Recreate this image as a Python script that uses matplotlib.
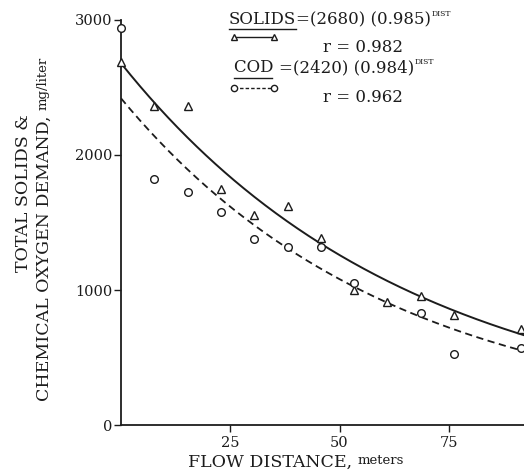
import numpy as np
import matplotlib.pyplot as plt

# sampling stations, 25 ft apart, given in meters
dist_solids = [0, 7.62, 15.24, 22.86, 30.48, 38.1, 45.72, 53.34, 60.96, 68.58, 76.2, 91.44]
solids = [2690, 2360, 2360, 1745, 1555, 1625, 1385, 1000, 911, 958, 815, 711]

dist_cod = [0, 7.62, 15.24, 22.86, 30.48, 38.1, 45.72, 53.34, 68.58, 76.2, 91.44]
cod = [2940, 1822, 1726, 1578, 1378, 1319, 1319, 1052, 830, 526, 570]

# fitted curves: value = a * b**DIST
solids_a, solids_b, solids_r = 2680, 0.985, 0.982
cod_a, cod_b, cod_r = 2420, 0.984, 0.962

W, H = 524, 473
INK = '#1c1c1c'
plt.rcParams['font.family'] = 'DejaVu Serif'


def fx(px):
    return px / W


def fy(py):
    return 1 - py / H


fig = plt.figure(figsize=(W / 100, H / 100), dpi=100)
ax = fig.add_axes([fx(121), fy(425), fx(W - 121), (425 - 20) / H])

xmax = 92.2
xfit = np.linspace(0, xmax, 300)
ax.plot(xfit, solids_a * solids_b ** xfit, color=INK, lw=1.4)
ax.plot(xfit, cod_a * cod_b ** xfit, color=INK, lw=1.3, ls=(0, (4, 2.5)))
ax.plot(dist_solids, solids, ls='none', marker='^', mfc='white', mec=INK,
        ms=6, mew=1, clip_on=False, zorder=3)
ax.plot(dist_cod, cod, ls='none', marker='o', mfc='white', mec=INK,
        ms=5.5, mew=1, clip_on=False, zorder=3)

ax.set_xlim(0, xmax)
ax.set_ylim(0, 3000)
for s in ('top', 'right'):
    ax.spines[s].set_visible(False)
for s in ('left', 'bottom'):
    ax.spines[s].set_color(INK)
    ax.spines[s].set_linewidth(1.3)
ax.set_xticks([25, 50, 75])
ax.set_yticks([0, 1000, 2000, 3000])
ax.tick_params(axis='both', colors=INK, labelsize=10.5, length=5, width=1)
ax.tick_params(axis='y', pad=1)
ax.tick_params(axis='x', pad=3)

# axis labels with small unit text
fs_lab = 12.5
fs_unit = 9.5
tx = fig.text(fx(188), fy(462), 'FLOW DISTANCE,', fontsize=fs_lab, color=INK,
              ha='left', va='center')
fig.canvas.draw()
ax.annotate('meters', xy=(1, 0), xycoords=tx, xytext=(4, 2.5),
            textcoords='offset points', fontsize=fs_unit, color=INK,
            ha='left', va='bottom')

ty1 = fig.text(fx(24), fy(193), 'TOTAL SOLIDS &', fontsize=fs_lab, color=INK,
               rotation=90, ha='center', va='center')
ty2 = fig.text(fx(44), fy(258), 'CHEMICAL OXYGEN DEMAND,', fontsize=fs_lab,
               color=INK, rotation=90, ha='center', va='center')
ax.annotate('mg/liter', xy=(1, 1), xycoords=ty2, xytext=(-2.5, 4),
            textcoords='offset points', fontsize=fs_unit, color=INK,
            rotation=90, ha='right', va='bottom')

# equation block
fs_eq = 12


def equation(x, y, name, a, b):
    t_name = fig.text(fx(x), fy(y), name, fontsize=fs_eq, color=INK,
                      ha='left', va='center')
    t_rest = ax.annotate('=(%d) (%s)' % (a, b), xy=(1, 0.5), xycoords=t_name,
                         fontsize=fs_eq, color=INK, ha='left', va='center')
    ax.annotate('DIST', xy=(1, 0.62), xycoords=t_rest, xytext=(0.5, 0),
                textcoords='offset points', fontsize=5.5, color=INK,
                ha='left', va='bottom')
    return t_name


t_sol = equation(229, 20, 'SOLIDS', solids_a, solids_b)
t_cod = equation(234, 68, 'COD ', cod_a, cod_b)
fig.text(fx(323), fy(47), 'r = %.3f' % solids_r, fontsize=fs_eq, color=INK,
         ha='left', va='center')
fig.text(fx(323), fy(98), 'r = %.3f' % cod_r, fontsize=fs_eq, color=INK,
         ha='left', va='center')

# underlines and legend samples
fig.canvas.draw()
for t, ul_y, samp_y, mk, ls in [(t_sol, 29, 37, '^', '-'),
                                (t_cod, 78, 88, 'o', (0, (2.5, 1.5)))]:
    bb = t.get_window_extent()
    x0, x1 = bb.x0, bb.x1 - (7 if mk == 'o' else 0)
    fig.add_artist(plt.Line2D([x0 / W, x1 / W], [fy(ul_y)] * 2,
                              color=INK, lw=1, transform=fig.transFigure))
    fig.add_artist(plt.Line2D([fx(234), fx(274)], [fy(samp_y)] * 2,
                              color=INK, lw=1, ls=ls, marker=mk,
                              mfc='white', mec=INK, ms=4.5, mew=1,
                              transform=fig.transFigure))

fig.savefig('out.png', dpi=100, facecolor='white')
